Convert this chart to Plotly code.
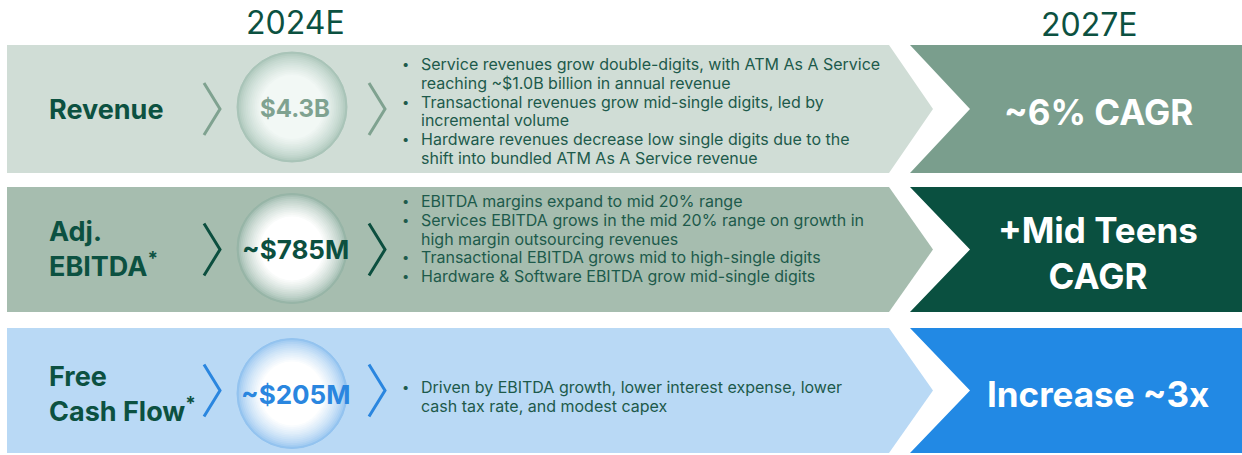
import plotly.graph_objects as go

# ---------------- data ----------------
period_labels = ["2024E", "2027E"]
metrics = ["Revenue", "Adj.<br>EBITDA<sup>*</sup>", "Free<br>Cash Flow<sup>*</sup>"]
values_2024 = ["$4.3B", "~$785M", "~$205M"]
targets_2027 = ["~6% CAGR", "+Mid Teens<br>CAGR", "Increase ~3x"]

bullets_revenue = [
    ["Service revenues grow double-digits, with ATM As A Service",
     "reaching ~$1.0B billion in annual revenue"],
    ["Transactional revenues grow mid-single digits, led by",
     "incremental volume"],
    ["Hardware revenues decrease low single digits due to the",
     "shift into bundled ATM As A Service revenue"],
]
bullets_ebitda = [
    ["EBITDA margins expand to mid 20% range"],
    ["Services EBITDA grows in the mid 20% range on growth in",
     "high margin outsourcing revenues"],
    ["Transactional EBITDA grows mid to high-single digits"],
    ["Hardware & Software EBITDA grow mid-single digits"],
]
bullets_fcf = [
    ["Driven by EBITDA growth, lower interest expense, lower",
     "cash tax rate, and modest capex"],
]
bullets = [bullets_revenue, bullets_ebitda, bullets_fcf]

# ---------------- style / layout ----------------
W, H = 1242, 455
FONT = "Inter"
band_light = ["#d0ddd6", "#a6bdaf", "#b9d9f5"]
band_dark = ["#7a9e8d", "#0a5040", "#2289e4"]
accent = ["#7fa290", "#0c4f3f", "#2a86df"]
circle_edge = ["#a9c4b8", "#97b5a7", "#93c3ef"]
circle_center = ["#f2f8f5", "#ffffff", "#ffffff"]
label_color = "#0c5141"
bullet_color = "#1d5a4b"

row_top = [45, 187, 328]
row_h = [128, 125, 125]
bullet_first_y = [64, 201, 387]
circle_cy_shift = [-2, -1, 3]
label_shift = [0, -1, 3]
line_gap = 18.8

fig = go.Figure()
shapes = []
annotations = []


def hex2rgb(h):
    h = h.lstrip("#")
    return tuple(int(h[i:i + 2], 16) for i in (0, 2, 4))


def mix(c1, c2, t):
    a, b = hex2rgb(c1), hex2rgb(c2)
    return "rgb(%d,%d,%d)" % tuple(round(a[i] + (b[i] - a[i]) * t) for i in range(3))


for i in range(len(metrics)):
    y0 = row_top[i]
    y1 = y0 + row_h[i]
    ym = (y0 + y1) / 2
    # light band with arrow tip
    shapes.append(dict(type="path", path=f"M 7 {y0} L 889 {y0} L 933 {ym} L 889 {y1} L 7 {y1} Z",
                       fillcolor=band_light[i], line=dict(width=0), layer="below"))
    # dark band with notch
    shapes.append(dict(type="path", path=f"M 910 {y0} L {W} {y0} L {W} {y1} L 910 {y1} L 970 {ym} Z",
                       fillcolor=band_dark[i], line=dict(width=0), layer="below"))
    # chevrons
    for cx in (204, 369):
        shapes.append(dict(type="path", path=f"M {cx} {ym - 26} L {cx + 16} {ym} L {cx} {ym + 26}",
                           line=dict(color=accent[i], width=3)))
    # circle with radial gradient
    ccx, ccy, r = 292, ym + circle_cy_shift[i], 55
    steps = 14
    for k in range(steps):
        rr = r * (1 - 0.42 * k / (steps - 1))
        t = min(1.0, (k / (steps - 1)) ** 0.7)
        col = mix(circle_edge[i], circle_center[i], t)
        shapes.append(dict(type="circle", x0=ccx - rr, x1=ccx + rr, y0=ccy - rr, y1=ccy + rr,
                           fillcolor=col, line=dict(width=0)))
    shapes.append(dict(type="circle", x0=ccx - r, x1=ccx + r, y0=ccy - r, y1=ccy + r,
                       fillcolor="rgba(0,0,0,0)", line=dict(color=circle_edge[i], width=1)))
    annotations.append(dict(x=ccx + 3, y=ccy + 1, text=f"<b>{values_2024[i]}</b>", showarrow=False,
                            xanchor="center", yanchor="middle",
                            font=dict(family=FONT, size=24 if i == 0 else 26, color=accent[i])))
    # metric label
    annotations.append(dict(x=47, y=ym + label_shift[i], text=f"<b>{metrics[i]}</b>", showarrow=False,
                            xanchor="left", yanchor="middle", align="left",
                            font=dict(family=FONT, size=27, color=label_color)))
    # bullets
    ly = bullet_first_y[i]
    for b in bullets[i]:
        annotations.append(dict(x=405, y=ly, text="•", showarrow=False, xanchor="center", yanchor="middle",
                                font=dict(family=FONT, size=13, color=bullet_color)))
        for line in b:
            annotations.append(dict(x=419, y=ly, text=line, showarrow=False, xanchor="left",
                                    yanchor="middle", font=dict(family=FONT, size=16, color=bullet_color)))
            ly += line_gap
    # 2027 target
    annotations.append(dict(x=1098, y=ym + 3, text=f"<b>{targets_2027[i]}</b>", showarrow=False,
                            xanchor="center", yanchor="middle", align="center",
                            font=dict(family=FONT, size=35, color="#ffffff")))

# period headers
annotations.append(dict(x=295, y=22, text=period_labels[0], showarrow=False, xanchor="center",
                        yanchor="middle", font=dict(family=FONT, size=32, color=label_color)))
annotations.append(dict(x=1089, y=24, text=period_labels[1], showarrow=False, xanchor="center",
                        yanchor="middle", font=dict(family=FONT, size=32, color=label_color)))

fig.update_layout(
    width=W, height=H, margin=dict(l=0, r=0, t=0, b=0),
    paper_bgcolor="#ffffff", plot_bgcolor="#ffffff",
    xaxis=dict(range=[0, W], visible=False, fixedrange=True),
    yaxis=dict(range=[H, 0], visible=False, fixedrange=True),
    shapes=shapes, annotations=annotations, showlegend=False,
)
fig.write_html("out.html", config={"displayModeBar": False},
               post_script="document.body.style.margin='0';document.body.style.overflow='hidden';")
